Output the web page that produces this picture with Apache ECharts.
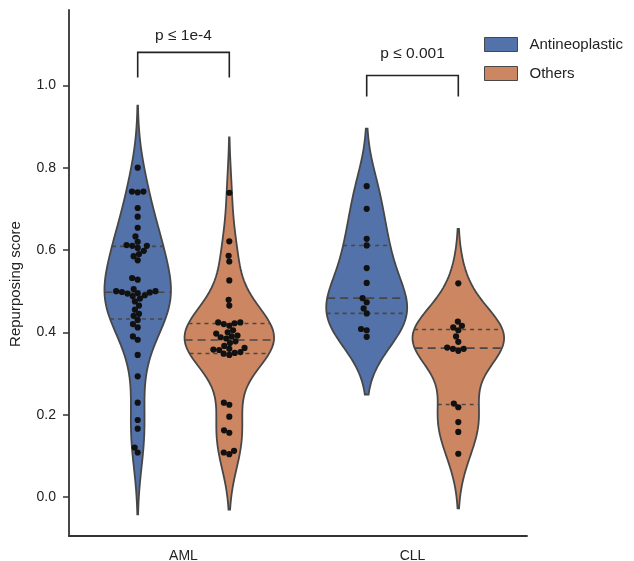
<!DOCTYPE html>
<html><head><meta charset="utf-8">
<script src="https://cdn.jsdelivr.net/npm/echarts@6/dist/echarts.min.js"></script>
<style>html,body{margin:0;padding:0;background:#fff}#c{width:634px;height:561px}</style>
</head><body><div id="c"></div>
<script>
// ---------- DATA ----------
const categories = ['AML', 'CLL'];
const hueNames = ['Antineoplastic', 'Others'];
const yTicks = [0.0, 0.2, 0.4, 0.6, 0.8, 1.0];
const amlAntineoplastic = [0.80, 0.742, 0.742, 0.740, 0.702, 0.681, 0.654, 0.633, 0.62, 0.612, 0.61, 0.61, 0.605, 0.598, 0.59, 0.585, 0.575, 0.532, 0.528, 0.505, 0.50, 0.50, 0.498, 0.497, 0.495, 0.494, 0.49, 0.488, 0.482, 0.475, 0.465, 0.455, 0.445, 0.44, 0.43, 0.42, 0.412, 0.39, 0.382, 0.345, 0.293, 0.229, 0.187, 0.166, 0.12, 0.108];
const amlOthers = [0.739, 0.621, 0.586, 0.572, 0.526, 0.479, 0.465, 0.424, 0.424, 0.422, 0.42, 0.416, 0.405, 0.40, 0.397, 0.392, 0.39, 0.388, 0.385, 0.378, 0.374, 0.367, 0.362, 0.36, 0.358, 0.357, 0.352, 0.35, 0.348, 0.345, 0.229, 0.224, 0.195, 0.162, 0.156, 0.112, 0.108, 0.104];
const cllAntineoplastic = [0.755, 0.700, 0.627, 0.611, 0.556, 0.520, 0.483, 0.473, 0.458, 0.446, 0.408, 0.405, 0.389];
const cllOthers = [0.519, 0.426, 0.416, 0.412, 0.405, 0.39, 0.377, 0.363, 0.36, 0.36, 0.355, 0.227, 0.218, 0.182, 0.158, 0.105];
const pLabels = ['p ≤ 1e-4', 'p ≤ 0.001'];

// ---------- helpers ----------
const groups = [
  {cat: 0, hue: 0, values: amlAntineoplastic},
  {cat: 0, hue: 1, values: amlOthers},
  {cat: 1, hue: 0, values: cllAntineoplastic},
  {cat: 1, hue: 1, values: cllOthers}
];
const hueOffset = [-0.2, 0.2];
const colors = ['#5372a9', '#cc8762'];
const edge = '#474747';
const FONT = '"Liberation Sans", Arial, sans-serif';

function percentile(sorted, p) {
  const idx = p * (sorted.length - 1);
  const lo = Math.floor(idx), hi = Math.ceil(idx);
  return sorted[lo] + (sorted[hi] - sorted[lo]) * (idx - lo);
}
groups.forEach(g => {
  const v = g.values, n = v.length;
  const m = v.reduce((a, b) => a + b, 0) / n;
  const sd = Math.sqrt(v.reduce((a, b) => a + (b - m) * (b - m), 0) / (n - 1));
  const bw = sd * Math.pow(n, -0.2);
  const mn = Math.min(...v), mx = Math.max(...v);
  const lo = mn - 2 * bw, hi = mx + 2 * bw;
  const dens = y => {
    let s = 0;
    for (const x of v) { const z = (y - x) / bw; s += Math.exp(-0.5 * z * z); }
    return s / (n * bw * Math.sqrt(2 * Math.PI));
  };
  g.dens = dens;
  g.grid = []; g.d = [];
  for (let k = 0; k < 100; k++) {
    const y = lo + (hi - lo) * k / 99;
    g.grid.push(y); g.d.push(dens(y));
  }
  const s = v.slice().sort((a, b) => a - b);
  g.q = [percentile(s, 0.25), percentile(s, 0.5), percentile(s, 0.75)];
  g.median = g.q[1];
});
const maxDens = Math.max(...groups.map(g => Math.max(...g.d)));

function violinRender(params, api) {
  const gi = api.value(2);
  const g = groups[gi];
  const c0 = api.coord([0, 0]), c1 = api.coord([1, 0]);
  const band = c1[0] - c0[0];
  const cx = api.coord([g.cat, 0])[0] + hueOffset[g.hue] * band;
  const scale = 0.2 * band / maxDens;
  const right = [], left = [];
  for (let k = 0; k < g.grid.length; k++) {
    const py = api.coord([g.cat, g.grid[k]])[1];
    right.push([cx + g.d[k] * scale, py]);
    left.push([cx - g.d[k] * scale, py]);
  }
  const pts = right.concat(left.reverse());
  const children = [{
    type: 'polygon', shape: {points: pts},
    style: {fill: colors[g.hue], stroke: edge, lineWidth: 1.8}
  }];
  g.q.forEach((q, i) => {
    const py = api.coord([g.cat, q])[1];
    const h = g.dens(q) * scale;
    children.push({
      type: 'line', shape: {x1: cx - h, y1: py, x2: cx + h, y2: py},
      style: {stroke: edge, lineWidth: 1.6, lineDash: i === 1 ? [8, 5] : [4, 4]}
    });
  });
  return {type: 'group', children};
}

function swarmRender(params, api) {
  const c0 = api.coord([0, 0]), c1 = api.coord([1, 0]);
  const band = c1[0] - c0[0];
  const cat = api.value(0), val = api.value(1), off = api.value(2), hue = api.value(3);
  const p = api.coord([cat, val]);
  return {type: 'circle', shape: {cx: p[0] + hueOffset[hue] * band + off, cy: p[1], r: 3.1},
    style: {fill: '#111'}};
}

function bracketRender(params, api) {
  const c0 = api.coord([0, 0]), c1 = api.coord([1, 0]);
  const band = c1[0] - c0[0];
  const cat = api.value(0);
  const yb = api.coord([cat, api.value(1)])[1];
  const yt = api.coord([cat, api.value(2)])[1];
  const ytx = api.coord([cat, api.value(3)])[1];
  const cx = api.coord([cat, 0])[0];
  const x1 = cx + hueOffset[0] * band, x2 = cx + hueOffset[1] * band;
  return {type: 'group', children: [
    {type: 'polyline', shape: {points: [[x1, yb], [x1, yt], [x2, yt], [x2, yb]]},
      style: {stroke: '#222', lineWidth: 1.6, fill: null}},
    {type: 'text', x: cx, y: ytx, style: {text: pLabels[api.value(4)], fill: '#222',
      font: '15.5px ' + FONT, align: 'center', verticalAlign: 'middle'}}
  ]};
}

const chart = echarts.init(document.getElementById('c'), null, {renderer: 'canvas'});
const axisColor = '#333';
const option = {
  animation: false,
  backgroundColor: '#fff',
  grid: {left: 69, right: 107, top: 10, bottom: 25, containLabel: false, outerBoundsMode: 'none'},
  legend: {
    data: hueNames.map(n => ({name: n, icon: 'rect'})),
    orient: 'vertical', left: 479, top: 32, itemWidth: 33, itemHeight: 14, itemGap: 14,
    itemStyle: {borderColor: edge, borderWidth: 1},
    textStyle: {fontSize: 15, color: '#222', fontFamily: FONT, padding: [0, 0, 0, 7]},
    selectedMode: false
  },
  xAxis: {
    type: 'category', data: categories,
    axisLine: {onZero: false, lineStyle: {color: axisColor, width: 1.8}},
    axisTick: {alignWithLabel: true, length: 6, lineStyle: {color: axisColor, width: 1.5}},
    axisLabel: {fontSize: 14, color: '#222', margin: 13, fontFamily: FONT},
    splitLine: {show: false}
  },
  yAxis: {
    type: 'value', min: -0.0948, max: 1.183,
    name: 'Repurposing score', nameLocation: 'middle', nameGap: 46,
    nameTextStyle: {fontSize: 15, color: '#222', fontFamily: FONT, padding: [0, 22, 0, 0]},
    axisLine: {show: true, lineStyle: {color: axisColor, width: 1.8}},
    axisTick: {show: true, length: 6, customValues: yTicks, lineStyle: {color: axisColor, width: 1.5}},
    axisLabel: {fontSize: 14, color: '#222', margin: 13, customValues: yTicks,
      formatter: v => v.toFixed(1), fontFamily: FONT},
    splitLine: {show: false}
  },
  series: [
    ...hueNames.map((name, h) => ({
      type: 'custom', name, renderItem: violinRender,
      itemStyle: {color: colors[h], borderColor: edge},
      encode: {x: 0, y: 1},
      data: groups.map((g, gi) => [g.cat, g.median, gi]).filter(d => groups[d[2]].hue === h),
      z: 2
    })),
    {type: 'custom', id: 'swarm', renderItem: swarmRender, encode: {x: 0, y: 1}, data: [], z: 5},
    {type: 'custom', id: 'brackets', renderItem: bracketRender, encode: {x: 0, y: 1},
      data: [[0, 1.019, 1.080, 1.12, 0], [1, 0.973, 1.024, 1.078, 1]], z: 6, clip: false}
  ]
};
chart.setOption(option);

// beeswarm layout in pixel space
const dia = 5.8;
const swarmData = [];
groups.forEach(g => {
  const pts = g.values.map(v => ({v, py: chart.convertToPixel({yAxisIndex: 0}, v)}));
  pts.sort((a, b) => a.v - b.v);
  const placed = [];
  pts.forEach(p => {
    const neigh = placed.filter(q => Math.abs(q.py - p.py) < dia);
    const lefts = [], rights = [];
    neigh.forEach(q => {
      const dy = q.py - p.py;
      const dx = Math.sqrt(Math.max(dia * dia - dy * dy, 0));
      lefts.push(q.x - dx); rights.push(q.x + dx);
    });
    const all = [0].concat(lefts, rights);
    const sorted = all.map((x, i) => ({x, i})).sort((a, b) => Math.abs(a.x) - Math.abs(b.x) || a.i - b.i);
    let chosen = 0;
    for (const c of sorted) {
      const ok = neigh.every(q => {
        const dx = q.x - c.x, dy = q.py - p.py;
        return dx * dx + dy * dy >= dia * dia - 1e-6;
      });
      if (ok) { chosen = c.x; break; }
    }
    p.x = chosen;
    placed.push(p);
    swarmData.push([g.cat, p.v, chosen, g.hue]);
  });
});
chart.setOption({series: [{id: 'swarm', data: swarmData}]});
</script>
</body></html>
